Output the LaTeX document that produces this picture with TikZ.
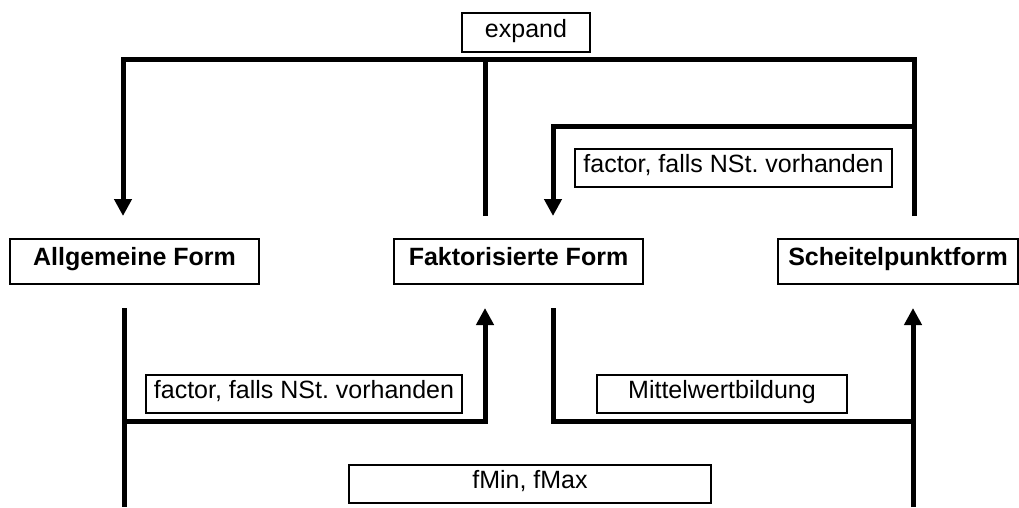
\documentclass[tikz,border=0pt]{standalone}
\usepackage{fontspec}
\setmainfont{Liberation Sans}
\usetikzlibrary{arrows.meta}
\frenchspacing
\tikzset{
  lbl/.style={draw, line width=1.3pt, inner sep=0pt, align=center, text height=18pt, text depth=9pt, font=\fontsize{25}{30}\selectfont},
  form/.style={lbl, text height=18pt, text depth=11pt, font=\fontsize{25}{30}\selectfont\bfseries},
  conn/.style={line width=5pt, line join=miter, line cap=butt},
  arr/.style={conn, -{Triangle[width=17pt,length=17pt]}}
}
\begin{document}
\begin{tikzpicture}[x=1pt,y=-1pt]
\useasboundingbox (0,0) rectangle (1019,507);
% labels
\node[lbl, minimum width=128pt, minimum height=39pt] (expand) at (526,32.5) {expand};
\node[lbl, minimum width=317pt, minimum height=38pt] (ufactor) at (733.5,168) {factor, falls NSt. vorhanden};
\node[lbl, minimum width=316pt, minimum height=38pt] (lfactor) at (304,394) {factor, falls NSt. vorhanden};
\node[lbl, minimum width=250pt, minimum height=38pt] (mittel) at (722,394) {Mittelwertbildung};
\node[lbl, minimum width=362pt, minimum height=38pt] (fmin) at (530,484) {fMin, fMax};
% forms
\node[form, minimum width=249pt, minimum height=45pt] (allg) at (134.5,261.5) {Allgemeine Form};
\node[form, minimum width=249pt, minimum height=45pt] (fakt) at (518.5,261.5) {Faktorisierte Form};
\node[form, minimum width=240pt, minimum height=45pt] (scheit) at (898,261.5) {Scheitelpunktform};
% connector end points
\coordinate (aTop) at (123,216);
\coordinate (fTopL) at (485,216);
\coordinate (fTopR) at (553,216);
\coordinate (sTop) at (914,216);
\coordinate (aBot) at (124,308);
\coordinate (aEnd) at (124,507);
\coordinate (fBotL) at (485,308);
\coordinate (fBotR) at (553,308);
\coordinate (sBot) at (913,308);
\coordinate (sEnd) at (913,507);
% expand
\draw[arr] (sTop) -- (914,59) -- (123,59) -- (aTop);
\draw[conn] (fTopL) -- (485,59);
% factor (top)
\draw[arr] (914,126) -- (553,126) -- (fTopR);
% factor (bottom)
\draw[conn] (aBot) -- (aEnd);
\draw[arr] (124,421) -- (485,421) -- (fBotL);
% Mittelwertbildung
\draw[conn] (fBotR) -- (553,421) -- (913,421);
\draw[arr] (sEnd) -- (sBot);
\end{tikzpicture}
\end{document}
